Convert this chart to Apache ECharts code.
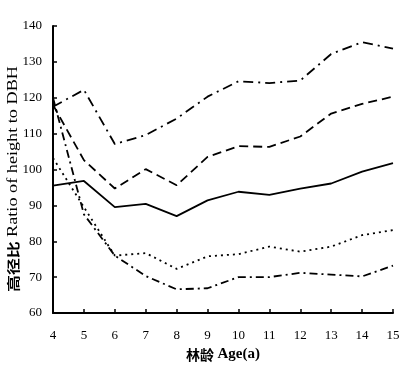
<!DOCTYPE html>
<html>
<head>
<meta charset="utf-8">
<script src="https://cdn.jsdelivr.net/npm/echarts@6/dist/echarts.min.js"></script>
<style>
html, body { margin: 0; padding: 0; background: #fff; }
#main { width: 413px; height: 368px; }
</style>
</head>
<body>
<div id="main"></div>
<script>
// 林龄 (a)
var ages = ['4', '5', '6', '7', '8', '9', '10', '11', '12', '13', '14', '15'];
// five curves of height/DBH ratio
var solidLine = [95.5, 96.8, 89.5, 90.4, 87.0, 91.4, 93.8, 92.9, 94.7, 96.1, 99.4, 101.8];
var dashLine = [118.0, 102.6, 94.7, 100.1, 95.6, 103.5, 106.5, 106.3, 109.2, 115.6, 118.3, 120.3];
var dashDotTop = [117.5, 122.2, 107.1, 109.6, 114.2, 120.3, 124.6, 124.1, 124.8, 132.2, 135.5, 133.7];
var dotLine = [103.2, 89.5, 76.0, 76.7, 72.3, 75.8, 76.4, 78.5, 77.1, 78.5, 81.7, 83.1];
var dashDotLow = [120.0, 87.5, 76.0, 70.3, 66.6, 66.9, 70.0, 70.0, 71.2, 70.7, 70.2, 73.2];
var yTicks = { min: 60, max: 140, interval: 10 };

var myChart = echarts.init(document.getElementById('main'));

function line(name, data, type) {
	return {
		name: name,
		type: 'line',
		data: data,
		symbol: 'none',
		smooth: false,
		lineStyle: {
			color: '#000',
			width: 1.8,
			type: type
		}
	};
}

var serif = '"Liberation Serif", "DejaVu Serif", serif';
var cjk = '"Noto Sans CJK SC", sans-serif';

var option = {
	animation: false,
	backgroundColor: '#fff',
	grid: {
		left: 53,
		right: 20,
		top: 26,
		bottom: 55,
		outerBoundsMode: 'none'
	},
	// y name is stretched along its length in the original, so drawn as graphic text
	graphic: [{
		type: 'text',
		x: 13,
		y: 179,
		rotation: Math.PI / 2,
		scaleX: 1.3,
		style: {
			text: '{cn|高径比} {en|Ratio of height to DBH}',
			align: 'center',
			verticalAlign: 'middle',
			rich: {
				cn: { fontFamily: cjk, fontWeight: 'bold', fontSize: 13, fill: '#000' },
				en: { fontFamily: serif, fontSize: 14, fill: '#000' }
			}
		}
	}],
	xAxis: {
		type: 'category',
		data: ages,
		boundaryGap: false,
		name: '{cn|林龄} {en|Age(a)}',
		nameLocation: 'middle',
		nameGap: 34,
		nameTextStyle: {
			rich: {
				cn: { fontFamily: cjk, fontWeight: 'bold', fontSize: 14, color: '#000' },
				en: { fontFamily: serif, fontWeight: 'bold', fontSize: 15, color: '#000' }
			}
		},
		axisLine: { lineStyle: { color: '#000', width: 2 } },
		axisTick: { inside: true, length: 4, alignWithLabel: true, lineStyle: { color: '#000', width: 1.5 } },
		axisLabel: { color: '#000', fontFamily: serif, fontSize: 13, margin: 16 },
		splitLine: { show: false }
	},
	yAxis: {
		type: 'value',
		min: yTicks.min,
		max: yTicks.max,
		interval: yTicks.interval,
		axisLine: { show: true, lineStyle: { color: '#000', width: 2 } },
		axisTick: { show: true, inside: true, length: 4, lineStyle: { color: '#000', width: 1.5 } },
		axisLabel: { color: '#000', fontFamily: serif, fontSize: 13, margin: 11 },
		splitLine: { show: false }
	},
	series: [
		line('solid', solidLine, 'solid'),
		line('dashed', dashLine, [9, 5]),
		line('dashdot1', dashDotTop, [10, 5, 2, 5]),
		line('dotted', dotLine, [2, 4]),
		line('dashdot2', dashDotLow, [8, 4, 2, 4])
	]
};
myChart.setOption(option);
</script>
</body>
</html>
